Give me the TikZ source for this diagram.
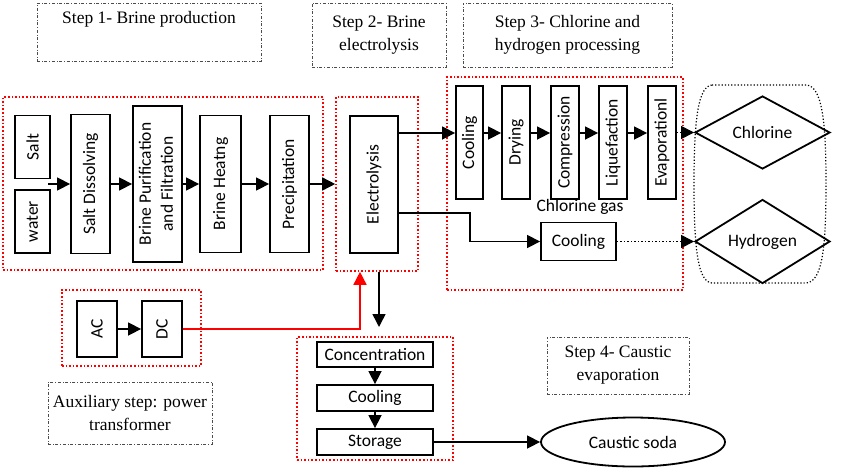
\documentclass[tikz,border=0pt]{standalone}
\usepackage{fontspec}
\usepackage{tikz}
\usetikzlibrary{arrows.meta,shapes.geometric}
\newfontfamily\calfont{Carlito}
\newfontfamily\tmsfont{Liberation Serif}
\begin{document}
\begin{tikzpicture}[x=1pt,y=-1pt,
  blk/.style={draw,line width=1.8pt,inner sep=0pt,font=\calfont\fontsize{17.5}{22}\selectfont},
  grp/.style={draw=red,dotted,line width=1.6pt,inner sep=0pt},
  lbl/.style={draw=black!70,dash dot,line width=0.8pt,inner sep=3pt,align=center,font=\tmsfont\fontsize{17.5}{23}\selectfont},
  arr/.style={line width=1.5pt,-{Triangle[length=13pt,width=13pt]}}]
\useasboundingbox (0,0) rectangle (850,474);
\node[lbl,minimum width=224,minimum height=58,text height=12pt,text depth=30pt] (step1) at (149,32) {Step 1- Brine production};
\node[lbl,minimum width=134,minimum height=64] (step2) at (379,35) {Step 2- Brine\\electrolysis};
\node[lbl,minimum width=209,minimum height=64] (step3) at (567.5,35) {Step 3- Chlorine and\\hydrogen processing};
\node[lbl,minimum width=142,minimum height=57] (step4) at (618,365.5) {Step 4- Caustic\\evaporation};
\node[lbl,minimum width=164,minimum height=62] (aux) at (130,413) {Auxiliary step: power\\transformer};
\node[grp,minimum width=320,minimum height=173] (g1) at (163,183.5) {};
\node[grp,minimum width=82,minimum height=174] (g2) at (377,184) {};
\node[grp,minimum width=236,minimum height=213] (g3) at (565,183.5) {};
\node[grp,minimum width=139,minimum height=76] (g4) at (131.5,328) {};
\node[grp,minimum width=156,minimum height=123] (g5) at (375,398.5) {};
\node[blk,minimum width=35,minimum height=63] (salt) at (32.5,147) {\rotatebox{90}{Salt}};
\node[blk,minimum width=35,minimum height=63] (water) at (32.5,221.5) {\rotatebox{90}{water}};
\node[blk,minimum width=39,minimum height=139] (dissolve) at (90.5,184) {\rotatebox{90}{Salt Dissolving}};
\node[blk,minimum width=49,minimum height=156] (purif) at (157.5,184) {\rotatebox{90}{\begin{tabular}{@{}c@{}}Brine Purification\\and Filtration\end{tabular}}};
\node[blk,minimum width=41,minimum height=137] (heat) at (220.5,184) {\rotatebox{90}{Brine Heatng}};
\node[blk,minimum width=39,minimum height=137] (precip) at (289.5,184) {\rotatebox{90}{Precipitation}};
\node[blk,minimum width=48,minimum height=137] (electro) at (374,184.5) {\rotatebox{90}{Electrolysis}};
\node[blk,minimum width=27,minimum height=113] (cool1) at (469.5,142.5) {\rotatebox{90}{Cooling}};
\node[blk,minimum width=28,minimum height=113] (dry) at (516,142.5) {\rotatebox{90}{Drying}};
\node[blk,minimum width=28,minimum height=113] (comp) at (565,142.5) {\rotatebox{90}{Compression}};
\node[blk,minimum width=28,minimum height=113] (liq) at (613,142.5) {\rotatebox{90}{Liquefaction}};
\node[blk,minimum width=28,minimum height=113] (evap) at (662,142.5) {\rotatebox{90}{Evaporationl}};
\node[font=\calfont\fontsize{17.5}{22}\selectfont] (gas) at (580,207) {Chlorine gas};
\node[blk,minimum width=75,minimum height=38] (hcool) at (578.5,241.5) {Cooling};
\node[blk,diamond,minimum width=135,minimum height=73] (cl) at (762.5,132.5) {Chlorine};
\node[blk,diamond,minimum width=135,minimum height=69] (h2) at (762.5,241.5) {Hydrogen};
\node[blk,minimum width=40,minimum height=56] (ac) at (97,329) {\rotatebox{90}{AC}};
\node[blk,minimum width=40,minimum height=56] (dc) at (162,329) {\rotatebox{90}{DC}};
\node[blk,minimum width=116,minimum height=25] (conc) at (375,354.5) {Concentration};
\node[blk,minimum width=116,minimum height=26] (ccool) at (375,398) {Cooling};
\node[blk,minimum width=116,minimum height=26] (stor) at (375,442) {Storage};
\node[blk,ellipse,minimum width=184,minimum height=49] (soda) at (633,442) {Caustic soda};
\draw[dotted,line width=1.2pt] (712,85) -- (806,85) .. controls (822,86) and (826,120) .. (826,184) .. controls (826,250) and (822,282) .. (806,283) -- (712,283) .. controls (698,282) and (694,250) .. (694,184) .. controls (694,120) and (698,86) .. (712,85) -- cycle;
\coordinate (sw) at (48,184);
\coordinate (clr) at (0,133);
\coordinate (h2r) at (0,213);
\coordinate (bend) at (470,0);
\coordinate (rx) at (360,0);
\coordinate (bx) at (379,0);
\coordinate (dn) at (379,327);
\draw[arr] (sw) -- (sw -| dissolve.west);
\draw[arr] (dissolve) -- (purif);
\draw[arr] (purif) -- (heat);
\draw[arr] (heat) -- (precip);
\draw[arr] (precip) -- (precip -| g2.west);
\draw[arr] (electro.east |- clr) -- (cool1.west |- clr);
\foreach \a/\b in {cool1/dry,dry/comp,comp/liq,liq/evap}
  \draw[arr] (\a.east |- clr) -- (\b.west |- clr);
\draw[arr,dotted,line width=1pt] (evap.east |- cl) -- (cl.west);
\draw[arr,line width=1.3pt] (electro.east |- h2r) -| (bend |- hcool) -- (hcool.west);
\draw[arr,dotted,line width=1pt] (hcool) -- (h2.west);
\draw[arr] (ac) -- (dc);
\draw[arr,red] (dc.east) -| (rx |- g2.south);
\draw[arr] (bx |- g2.south) -- (dn);
\draw[arr] (conc) -- (ccool);
\draw[arr] (ccool) -- (stor);
\draw[arr] (stor) -- (soda);
\end{tikzpicture}
\end{document}
